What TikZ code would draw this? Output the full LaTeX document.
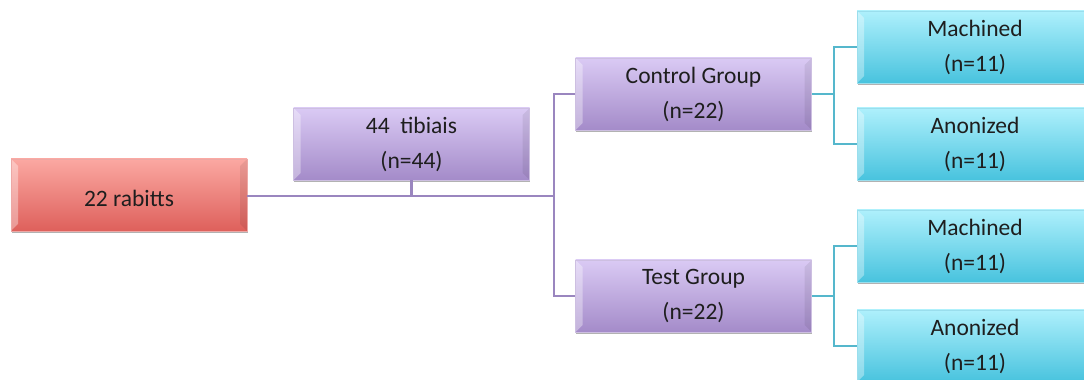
\documentclass[tikz,border=0pt]{standalone}
\usepackage{fontspec}
\setmainfont{Carlito}
\usetikzlibrary{shadows}
\definecolor{rtop}{HTML}{FBA8A2}
\definecolor{rbot}{HTML}{DE605B}
\definecolor{ptop}{HTML}{DACAF4}
\definecolor{pbot}{HTML}{A48BC9}
\definecolor{ctop}{HTML}{AEF0FC}
\definecolor{cbot}{HTML}{48C3DE}
\definecolor{pline}{HTML}{9A86BF}
\definecolor{cline}{HTML}{55B7CC}
\definecolor{txt}{HTML}{1E1E1E}
\tikzset{
  box/.style={rectangle, minimum width=236pt, minimum height=72pt, inner sep=0pt,
    align=center, font=\fontsize{23.5}{35}\selectfont, text=txt,
    execute at begin node={\rule{0pt}{22.5pt}},
    drop shadow={shadow xshift=0.8pt, shadow yshift=-2pt, opacity=0.3, fill=black},
    path picture={
      \fill[white, opacity=0.35] (path picture bounding box.north west) -- ++(7pt,-7pt)
        -- ([shift={(7pt,7pt)}]path picture bounding box.south west)
        -- (path picture bounding box.south west) -- cycle;
      \fill[black, opacity=0.07] (path picture bounding box.north east) -- ++(-7pt,-7pt)
        -- ([shift={(-7pt,7pt)}]path picture bounding box.south east)
        -- (path picture bounding box.south east) -- cycle;
    }},
  redbox/.style={box, top color=rtop, bottom color=rbot, draw=rbot!55!white, line width=0.6pt},
  purplebox/.style={box, top color=ptop, bottom color=pbot, draw=pbot!55!white, line width=0.6pt},
  cyanbox/.style={box, top color=ctop, bottom color=cbot, draw=cbot!55!white, line width=0.6pt},
  pconn/.style={draw=pline, line width=2.4pt},
  cconn/.style={draw=cline, line width=2.2pt}
}
\begin{document}
\begin{tikzpicture}[x=1pt,y=1pt]
\useasboundingbox (0,0) rectangle (1084,380);
\fill[white] (0,0) rectangle (1084,380);
\clip (0,0) rectangle (1084,380);

\coordinate (bus) at (554,184);
\coordinate (cbus) at (834,0);

\node[redbox] (rab) at (129,185) {22 rabitts};
\node[purplebox] (tib) at (411.5,236) {44\ \ tibiais\\(n=44)};
\node[purplebox] (ctl) at (693.5,286) {Control Group\\(n=22)};
\node[purplebox] (tst) at (693.5,84) {Test Group\\(n=22)};
\node[cyanbox] (m1) at (975,333) {Machined\\(n=11)};
\node[cyanbox] (a1) at (975,236) {Anonized\\(n=11)};
\node[cyanbox] (m2) at (975,134) {Machined\\(n=11)};
\node[cyanbox] (a2) at (975,34) {Anonized\\(n=11)};

\draw[pconn] (rab.east |- bus) -- (bus);
\draw[pconn] (tib.south) -- (tib.south |- bus);
\draw[pconn] (ctl.west) -| (bus) |- (tst.west);

\draw[cconn] (ctl.east) -- (ctl.east -| cbus);
\draw[cconn] (m1.west) -| (cbus |- ctl.east) |- (a1.west);
\draw[cconn] (tst.east) -- (tst.east -| cbus);
\draw[cconn] (m2.west) -| (cbus |- tst.east) |- (a2.west);
\end{tikzpicture}
\end{document}
